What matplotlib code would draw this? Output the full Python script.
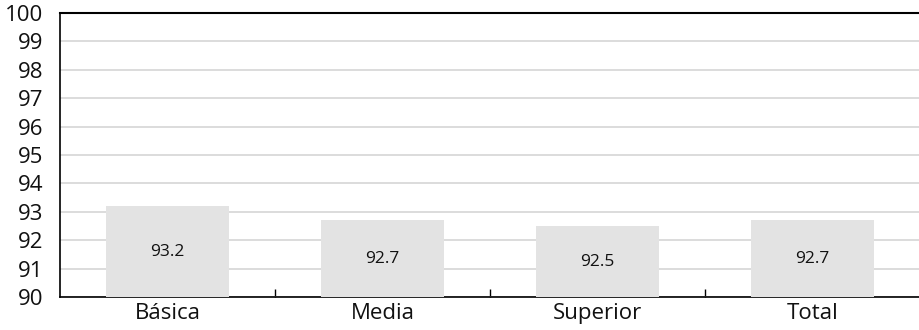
import matplotlib
matplotlib.use('Agg')

import matplotlib.pyplot as plt

# Datos por nivel educativo
categorias = ['Básica', 'Media', 'Superior', 'Total']
valores = [93.2, 92.7, 92.5, 92.7]
etiquetas = ['93.2', '92.7', '92.5', '92.7']

plt.rcParams['font.family'] = ['Open Sans', 'DejaVu Sans']

fig = plt.figure(figsize=(9.2, 3.3), dpi=100)
ax = fig.add_axes([60 / 920, 33 / 330, 860 / 920, 284 / 330])

x = list(range(len(categorias)))
barras = ax.bar(x, valores, width=0.57, bottom=0, color='#e3e3e3', zorder=3)

# Etiquetas de valor centradas en cada barra
for xi, v, t in zip(x, valores, etiquetas):
    ax.text(xi, (90 + v) / 2, t, ha='center', va='center', fontsize=12.5,
            color='#111111', zorder=4)

ax.set_ylim(90, 100)
ax.set_xlim(-0.5, 3.5)
ax.set_yticks(range(90, 101))
ax.yaxis.grid(True, color='#d9d9d9', linewidth=1.3, zorder=0)
ax.set_axisbelow(True)

ax.set_xticks(x)
ax.set_xticklabels(categorias)
ax.set_xticks([0.5, 1.5, 2.5], minor=True)
ax.tick_params(axis='x', which='major', length=0, labelsize=16, pad=4,
               labelcolor='#111111')
ax.tick_params(axis='x', which='minor', direction='in', length=6, width=1)
ax.tick_params(axis='y', length=0, labelsize=16, pad=12, labelcolor='#111111')

ax.spines['right'].set_visible(False)
ax.spines['top'].set_linewidth(1.5)
ax.spines['left'].set_linewidth(1.2)
ax.spines['bottom'].set_linewidth(1.2)
ax.spines['bottom'].set_zorder(2)

fig.savefig('out.png', dpi=100)
